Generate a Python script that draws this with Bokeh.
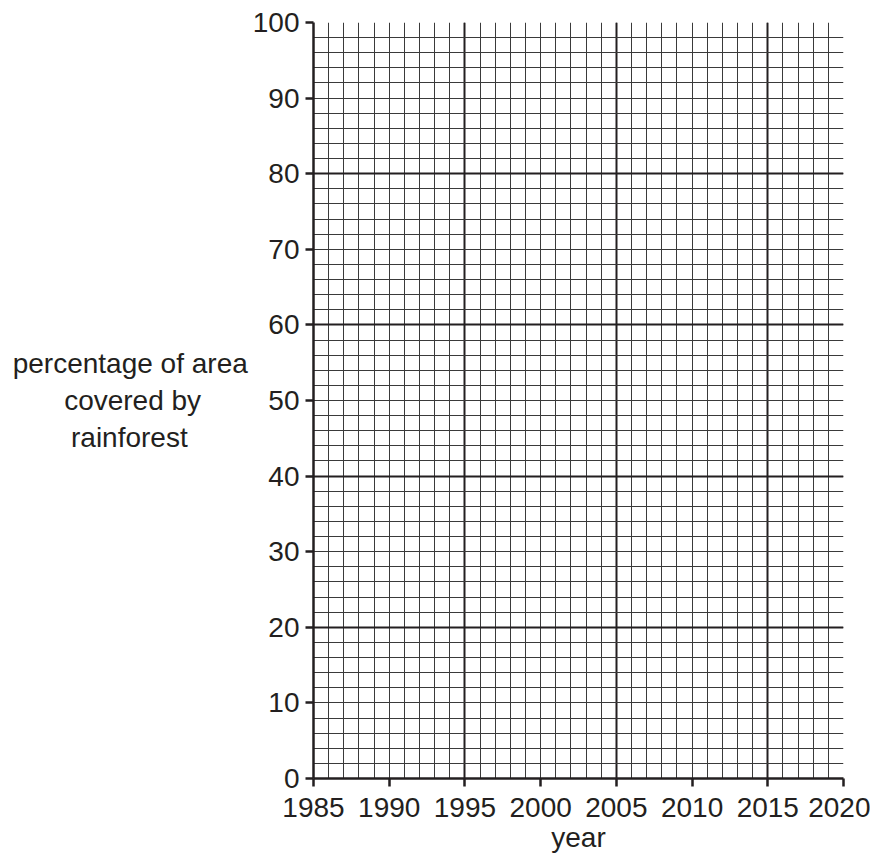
from bokeh.plotting import figure
from bokeh.models import FixedTicker, Range1d
from bokeh.embed import file_html
from bokeh.resources import INLINE

# Axis / grid values
x_ticks = [1985, 1990, 1995, 2000, 2005, 2010, 2015, 2020]
y_ticks = [0, 10, 20, 30, 40, 50, 60, 70, 80, 90, 100]
x_major_grid = [1995, 2005, 2015]
x_minor_grid = list(range(1985, 2021))
y_major_grid = [0, 20, 40, 60, 80, 100]
y_minor_grid = list(range(0, 101, 2))
x_label = "year"
y_label_lines = ["percentage of area", "covered by", "rainforest"]

FONT = "Liberation Sans"
INK = "#231f20"
FS = "28px"

NB = "\u00a0"
TH = "\u2009"
# pad shorter lines so that the right-aligned block reads as centred
y_label_text = "\n".join([
    y_label_lines[0],
    y_label_lines[1] + NB * 6,
    y_label_lines[2] + NB * 7 + TH,
])

p = figure(width=870, height=856, output_backend="svg", toolbar_location=None,
           x_range=Range1d(1985, 2020), y_range=Range1d(0, 100),
           min_border_left=313, min_border_right=27, min_border_top=22, min_border_bottom=78)
p.outline_line_color = None
p.background_fill_color = "white"
p.border_fill_color = "white"

# Axes
p.xaxis.ticker = FixedTicker(ticks=x_ticks)
p.yaxis.ticker = FixedTicker(ticks=y_ticks)
for ax in (p.xaxis[0], p.yaxis[0]):
    ax.axis_line_color = INK
    ax.axis_line_width = 2.5
    ax.major_tick_line_color = INK
    ax.major_tick_line_width = 2.5
    ax.major_tick_out = 8
    ax.major_tick_in = 0
    ax.minor_tick_line_color = None
    ax.major_label_text_font = FONT
    ax.major_label_text_font_size = FS
    ax.major_label_text_color = INK
    ax.axis_label_text_font = FONT
    ax.axis_label_text_font_size = FS
    ax.axis_label_text_font_style = "normal"
    ax.axis_label_text_color = INK
p.xaxis.major_label_standoff = 11
p.yaxis.major_label_standoff = 6
p.xaxis.axis_label = x_label
p.xaxis.axis_label_standoff = 2

p.yaxis.axis_label = y_label_text
p.yaxis.axis_label_orientation = "horizontal"
p.yaxis.axis_label_text_align = "center"
p.yaxis.axis_label_text_line_height = 1.2
p.yaxis.axis_label_standoff = 2

# Grids
p.xgrid.ticker = FixedTicker(ticks=x_major_grid, minor_ticks=x_minor_grid)
p.ygrid.ticker = FixedTicker(ticks=y_major_grid, minor_ticks=y_minor_grid)
for g in (p.xgrid[0], p.ygrid[0]):
    g.grid_line_color = INK
    g.grid_line_width = 2
    g.grid_line_alpha = 1.0
    g.minor_grid_line_color = "#3a3a3a"
    g.minor_grid_line_width = 1
    g.level = "underlay"

open("out.html", "w").write(file_html(p, INLINE))
